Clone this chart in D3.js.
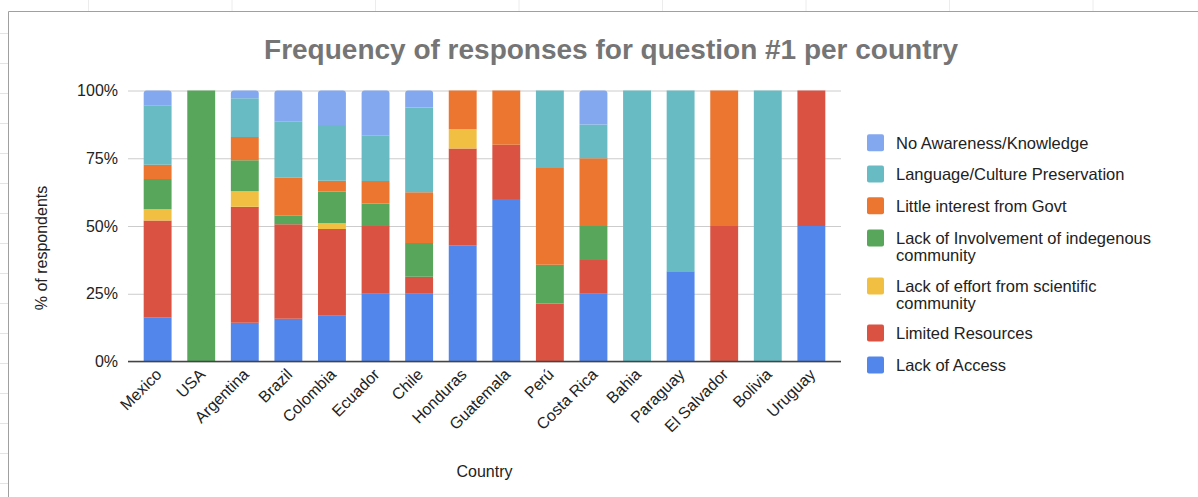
<!DOCTYPE html>
<html>
<head>
<meta charset="utf-8">
<script src="https://cdn.jsdelivr.net/npm/d3@7"></script>
<style>
  body { margin: 0; background: #fff; }
  svg text { font-family: "Liberation Sans", Arial, sans-serif; }
</style>
</head>
<body>
<div id="chart"></div>
<script>
// data (percent of respondents per country)
const countries = ["Mexico", "USA", "Argentina", "Brazil", "Colombia", "Ecuador", "Chile", "Honduras",
                   "Guatemala", "Perú", "Costa Rica", "Bahia", "Paraguay", "El Salvador", "Bolivia", "Uruguay"];

const lackOfAccess      = [16.3, 0, 14.3, 15.8, 16.9, 25, 25, 42.9, 60, 0, 25, 0, 33.3, 0, 0, 50];
const limitedResources  = [35.7, 0, 42.9, 34.8, 32.0, 25, 6.25, 35.7, 20, 21.4, 12.5, 0, 0, 50, 0, 50];
const lackOfEffort      = [4.2, 0, 5.7, 0, 2.1, 0, 0, 7.1, 0, 0, 0, 0, 0, 0, 0, 0];
const lackOfInvolvement = [11.1, 100, 11.4, 3.2, 11.7, 8.3, 12.5, 0, 0, 14.3, 12.5, 0, 0, 0, 0, 0];
const littleInterest    = [5.3, 0, 8.6, 14.0, 4.0, 8.3, 18.75, 14.3, 20, 35.7, 25, 0, 0, 50, 0, 0];
const languageCulture   = [22.0, 0, 14.3, 20.7, 20.6, 16.7, 31.25, 0, 0, 28.6, 12.5, 100, 66.7, 0, 100, 0];
const noAwareness       = [5.4, 0, 2.9, 11.5, 12.7, 16.7, 6.25, 0, 0, 0, 12.5, 0, 0, 0, 0, 0];

// bottom to top
const seriesNames = ["Lack of Access", "Limited Resources", "Lack of effort from scientific community",
                     "Lack of Involvement of indegenous community", "Little interest from Govt",
                     "Language/Culture Preservation", "No Awareness/Knowledge"];
const seriesValues = [lackOfAccess, limitedResources, lackOfEffort, lackOfInvolvement,
                      littleInterest, languageCulture, noAwareness];
const seriesColors = ["#5386ea", "#da5242", "#f1c042", "#58a65c", "#ec7630", "#68bbc3", "#83a8f0"];

// legend labels, wrapped like the original
const legendLines = [
    ["Lack of Access"],
    ["Limited Resources"],
    ["Lack of effort from scientific", "community"],
    ["Lack of Involvement of indegenous", "community"],
    ["Little interest from Govt"],
    ["Language/Culture Preservation"],
    ["No Awareness/Knowledge"]
];

const yTicks = [0, 0.25, 0.5, 0.75, 1];

const W = 1198, H = 497;
const plot = {left: 128, right: 841, top: 90.5, bottom: 361.5};

var svg = d3.select("#chart")
    .append("svg")
    .attr("width", W)
    .attr("height", H);

// sheet frame around the chart
var frame = svg.append("g");
frame.selectAll(".vt")
    .data(d3.range(33, H, 30))
    .enter().append("line")
    .attr("x1", 0).attr("x2", 8)
    .attr("y1", d => d + 0.5).attr("y2", d => d + 0.5)
    .attr("stroke", "#e4e4e4");
frame.selectAll(".ht")
    .data(d3.range(88, W, 143.5))
    .enter().append("line")
    .attr("y1", 0).attr("y2", 11)
    .attr("x1", d => d + 0.5).attr("x2", d => d + 0.5)
    .attr("stroke", "#ececec");
frame.append("path")
    .attr("d", `M8.5,${H} V11.5 H${W}`)
    .attr("fill", "none")
    .attr("stroke", "#a0a0a0");

// build table for the stack
var table = countries.map(function(c, i) {
    var row = {country: c};
    seriesNames.forEach(function(s, j) { row[s] = seriesValues[j][i]; });
    return row;
});

var stacked = d3.stack()
    .keys(seriesNames)
    .offset(d3.stackOffsetExpand)(table);

const xScale = d3.scaleBand()
    .domain(countries)
    .range([plot.left, plot.right])
    .paddingInner(0.36)
    .paddingOuter(0.36);

const yScale = d3.scaleLinear()
    .domain([0, 1])
    .range([plot.bottom, plot.top]);

// gridlines + tick labels
const yAxis = d3.axisLeft(yScale)
    .tickValues(yTicks)
    .tickFormat(d3.format(".0%"))
    .tickSize(-(plot.right - plot.left))
    .tickPadding(10);

var yg = svg.append("g")
    .attr("transform", `translate(${plot.left},0)`)
    .call(yAxis);
yg.select(".domain").remove();
yg.selectAll(".tick line").attr("stroke", "#cccccc");
yg.selectAll(".tick text")
    .attr("font-size", 16)
    .attr("fill", "#222");

function topRounded(x, y, w, h, r) {
    r = Math.min(r, h);
    return `M${x},${y + h} V${y + r} Q${x},${y} ${x + r},${y} H${x + w - r} Q${x + w},${y} ${x + w},${y + r} V${y + h} Z`;
}

// bars
var layers = svg.selectAll(".layer")
    .data(stacked)
    .enter().append("g")
    .attr("fill", (d, i) => seriesColors[i]);

layers.selectAll("path")
    .data(d => d.map(p => ({p: p, key: d.key})))
    .enter().append("path")
    .filter(d => d.p[1] - d.p[0] > 0)
    .attr("d", function(d) {
        var x = xScale(d.p.data.country);
        var y0 = yScale(d.p[0]), y1 = yScale(d.p[1]);
        var r = (d.key == "No Awareness/Knowledge") ? 3 : 0;
        return topRounded(x, y1, xScale.bandwidth(), y0 - y1, r);
    });

// baseline
svg.append("line")
    .attr("x1", plot.left).attr("x2", plot.right)
    .attr("y1", plot.bottom).attr("y2", plot.bottom)
    .attr("stroke", "#444")
    .attr("stroke-width", 1.5);

// rotated country labels
svg.append("g").selectAll("text")
    .data(countries)
    .enter().append("text")
    .attr("transform", d => `translate(${xScale(d) + xScale.bandwidth() / 2 + 5},${plot.bottom + 14}) rotate(-45)`)
    .attr("text-anchor", "end")
    .attr("font-size", 16)
    .attr("fill", "#222")
    .text(d => d);

// title + axis titles
svg.append("text")
    .attr("x", 611)
    .attr("y", 59)
    .attr("text-anchor", "middle")
    .attr("font-size", 28)
    .attr("font-weight", "bold")
    .attr("fill", "#757575")
    .text("Frequency of responses for question #1 per country");

svg.append("text")
    .attr("x", (plot.left + plot.right) / 2)
    .attr("y", 477)
    .attr("text-anchor", "middle")
    .attr("font-size", 16)
    .attr("fill", "#222")
    .text("Country");

svg.append("text")
    .attr("transform", "translate(47,248) rotate(-90)")
    .attr("text-anchor", "middle")
    .attr("font-size", 16)
    .attr("fill", "#222")
    .text("% of respondents");

// legend, top entry first
var legendY = [142.7, 174, 205.7, 238, 286, 333, 365];
var lineGap = 17;
var legend = svg.append("g");
var items = legend.selectAll("g")
    .data(seriesNames.slice().reverse())
    .enter().append("g")
    .attr("transform", (d, i) => `translate(867,${legendY[i]})`);

items.append("rect")
    .attr("x", 0).attr("y", -8.5)
    .attr("width", 17).attr("height", 17)
    .attr("rx", 2)
    .attr("fill", d => seriesColors[seriesNames.indexOf(d)]);

items.append("text")
    .attr("x", 29)
    .attr("font-size", 16.5)
    .attr("fill", "#222")
    .selectAll("tspan")
    .data(d => legendLines[seriesNames.indexOf(d)])
    .enter().append("tspan")
    .attr("x", 29)
    .attr("y", (d, i) => 6 + i * lineGap)
    .text(d => d);
</script>
</body>
</html>
